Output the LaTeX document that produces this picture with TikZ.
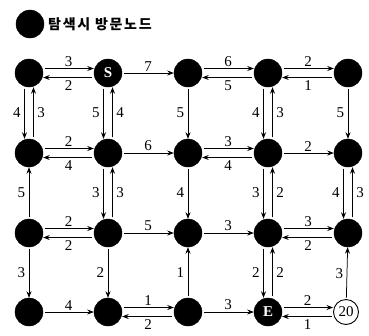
\documentclass[tikz,border=0pt]{standalone}
\usepackage{fontspec}
\setmainfont{Liberation Serif}
\newfontfamily\krfont[LetterSpace=12]{Noto Sans CJK KR}
\usetikzlibrary{arrows.meta}
\tikzset{
  vnode/.style={circle,fill=black,draw=black,minimum size=28pt,inner sep=0pt,text=white,font=\fontsize{15}{15}\selectfont\bfseries},
  wnode/.style={circle,fill=white,draw=black,line width=0.9pt,minimum size=25pt,inner sep=0pt,text=black,font=\fontsize{15}{15}\selectfont},
  arr/.style={-{Stealth[length=6.5pt,width=5pt]},line width=0.75pt,shorten <=1.5pt},
  lab/.style={font=\fontsize{15}{15}\selectfont,text=black},
  la/.style={lab,above,inner sep=1.5pt},
  lb/.style={lab,below,inner sep=2.5pt},
  ll/.style={lab,left,inner sep=3.5pt},
  lr/.style={lab,right,inner sep=3.5pt}
}
\newcommand{\hpair}[4]{%
  \draw[arr] ([yshift=4.5pt]#1.east) -- node[la]{#3} ([yshift=4.5pt]#2.west);
  \draw[arr] ([yshift=-4.5pt]#2.west) -- node[lb]{#4} ([yshift=-4.5pt]#1.east);}
\newcommand{\vpair}[4]{%
  \draw[arr] ([xshift=-4.5pt]#1.south) -- node[ll]{#3} ([xshift=-4.5pt]#2.north);
  \draw[arr] ([xshift=4.5pt]#2.north) -- node[lr]{#4} ([xshift=4.5pt]#1.south);}
\begin{document}
\begin{tikzpicture}[x=1pt,y=-1pt]
\useasboundingbox (0,0) rectangle (369,335);
% legend
\node[vnode] (leg) at (30,24) {};
\node[anchor=west,inner sep=0pt,font=\krfont\fontsize{14}{14}\selectfont\bfseries] (legtext) at (48,24) {탐색시 방문노드};
% nodes
\node[vnode] (n11) at (29,73) {};
\node[vnode] (n12) at (108,73) {S};
\node[vnode] (n13) at (188,73) {};
\node[vnode] (n14) at (268,73) {};
\node[vnode] (n15) at (348,73) {};
\node[vnode] (n21) at (29,153) {};
\node[vnode] (n22) at (108,153) {};
\node[vnode] (n23) at (188,153) {};
\node[vnode] (n24) at (268,153) {};
\node[vnode] (n25) at (348,153) {};
\node[vnode] (n31) at (29,233) {};
\node[vnode] (n32) at (108,233) {};
\node[vnode] (n33) at (188,233) {};
\node[vnode] (n34) at (268,233) {};
\node[vnode] (n35) at (348,233) {};
\node[vnode] (n41) at (29,312) {};
\node[vnode] (n42) at (108,312) {};
\node[vnode] (n43) at (188,312) {};
\node[vnode] (n44) at (268,312) {E};
\node[wnode] (n45) at (346,312) {20};
% row 1
\hpair{n11}{n12}{3}{2}
\draw[arr] (n12) -- node[la]{7} (n13);
\hpair{n13}{n14}{6}{5}
\hpair{n14}{n15}{2}{1}
% row 1-2
\vpair{n11}{n21}{4}{3}
\vpair{n12}{n22}{5}{4}
\draw[arr] (n13) -- node[ll]{5} (n23);
\vpair{n14}{n24}{4}{3}
\draw[arr] (n15) -- node[ll]{5} (n25);
% row 2
\hpair{n21}{n22}{2}{4}
\draw[arr] (n22) -- node[la]{6} (n23);
\hpair{n23}{n24}{3}{4}
\draw[arr] (n24) -- node[la]{2} (n25);
% row 2-3
\draw[arr] (n31) -- node[ll]{5} (n21);
\vpair{n22}{n32}{3}{3}
\draw[arr] (n23) -- node[ll]{4} (n33);
\vpair{n24}{n34}{3}{2}
\vpair{n25}{n35}{4}{3}
% row 3
\hpair{n31}{n32}{2}{2}
\draw[arr] (n32) -- node[la]{5} (n33);
\draw[arr] (n33) -- node[la]{3} (n34);
\hpair{n34}{n35}{3}{2}
% row 3-4
\draw[arr] (n31) -- node[ll]{3} (n41);
\draw[arr] (n32) -- node[ll]{2} (n42);
\draw[arr] (n43) -- node[ll]{1} (n33);
\vpair{n34}{n44}{2}{2}
\draw[arr] (n45) -- node[ll]{3} (n35);
% row 4
\draw[arr] (n41) -- node[la]{4} (n42);
\hpair{n42}{n43}{1}{2}
\draw[arr] (n43) -- node[la]{3} (n44);
\hpair{n44}{n45}{2}{1}
\end{tikzpicture}
\end{document}
